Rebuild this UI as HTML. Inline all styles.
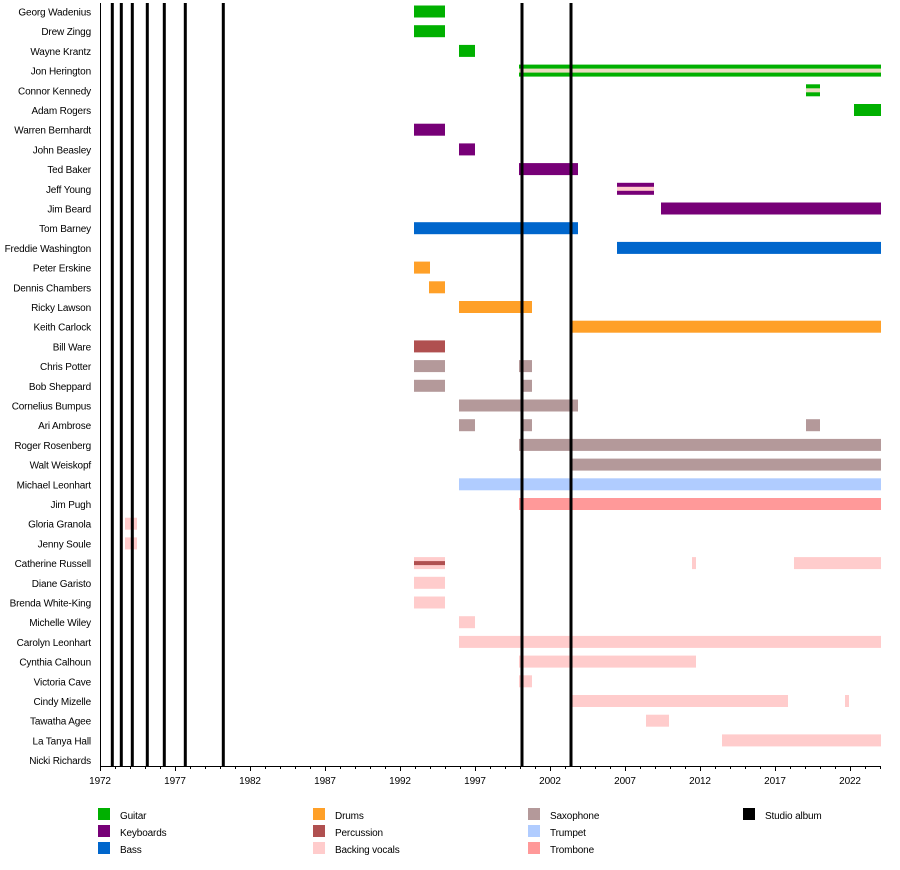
<!DOCTYPE html>
<html><head><meta charset="utf-8"><style>
body{margin:0;background:#fff}
svg text{font-family:"Liberation Sans",Arial,sans-serif;font-size:10px;fill:#000;letter-spacing:-0.15px}
</style></head><body>
<svg width="900" height="865" xmlns="http://www.w3.org/2000/svg">
<g text-anchor="end">
<g transform="translate(0,11.5)"><text x="91" y="4">Georg Wadenius</text><rect x="414" y="-6" width="31" height="12" fill="#00B000"/></g>
<g transform="translate(0,31.2)"><text x="91" y="4">Drew Zingg</text><rect x="414" y="-6" width="31" height="12" fill="#00B000"/></g>
<g transform="translate(0,50.9)"><text x="91" y="4">Wayne Krantz</text><rect x="459" y="-6" width="16" height="12" fill="#00B000"/></g>
<g transform="translate(0,70.6)"><text x="91" y="4">Jon Herington</text><rect x="519" y="-6" width="362" height="12" fill="#00B000"/><rect x="519" y="-2" width="362" height="4" fill="#E8DCC0"/></g>
<g transform="translate(0,90.3)"><text x="91" y="4">Connor Kennedy</text><rect x="806" y="-6" width="14" height="12" fill="#00B000"/><rect x="806" y="-2" width="14" height="4" fill="#E8DCC0"/></g>
<g transform="translate(0,110)"><text x="91" y="4">Adam Rogers</text><rect x="854" y="-6" width="27" height="12" fill="#00B000"/></g>
<g transform="translate(0,129.7)"><text x="91" y="4">Warren Bernhardt</text><rect x="414" y="-6" width="31" height="12" fill="#770077"/></g>
<g transform="translate(0,149.4)"><text x="91" y="4">John Beasley</text><rect x="459" y="-6" width="16" height="12" fill="#770077"/></g>
<g transform="translate(0,169.1)"><text x="91" y="4">Ted Baker</text><rect x="519" y="-6" width="59" height="12" fill="#770077"/></g>
<g transform="translate(0,188.8)"><text x="91" y="4">Jeff Young</text><rect x="617" y="-6" width="37" height="12" fill="#770077"/><rect x="617" y="-2" width="37" height="4" fill="#FFCCCC"/></g>
<g transform="translate(0,208.5)"><text x="91" y="4">Jim Beard</text><rect x="661" y="-6" width="220" height="12" fill="#770077"/></g>
<g transform="translate(0,228.2)"><text x="91" y="4">Tom Barney</text><rect x="414" y="-6" width="164" height="12" fill="#0066CC"/></g>
<g transform="translate(0,247.9)"><text x="91" y="4">Freddie Washington</text><rect x="617" y="-6" width="264" height="12" fill="#0066CC"/></g>
<g transform="translate(0,267.6)"><text x="91" y="4">Peter Erskine</text><rect x="414" y="-6" width="16" height="12" fill="#FFA028"/></g>
<g transform="translate(0,287.3)"><text x="91" y="4">Dennis Chambers</text><rect x="429" y="-6" width="16" height="12" fill="#FFA028"/></g>
<g transform="translate(0,307)"><text x="91" y="4">Ricky Lawson</text><rect x="459" y="-6" width="73" height="12" fill="#FFA028"/></g>
<g transform="translate(0,326.7)"><text x="91" y="4">Keith Carlock</text><rect x="572" y="-6" width="309" height="12" fill="#FFA028"/></g>
<g transform="translate(0,346.4)"><text x="91" y="4">Bill Ware</text><rect x="414" y="-6" width="31" height="12" fill="#B05050"/></g>
<g transform="translate(0,366.1)"><text x="91" y="4">Chris Potter</text><rect x="414" y="-6" width="31" height="12" fill="#B4999A"/><rect x="519" y="-6" width="13" height="12" fill="#B4999A"/></g>
<g transform="translate(0,385.8)"><text x="91" y="4">Bob Sheppard</text><rect x="414" y="-6" width="31" height="12" fill="#B4999A"/><rect x="523" y="-6" width="9" height="12" fill="#B4999A"/></g>
<g transform="translate(0,405.5)"><text x="91" y="4">Cornelius Bumpus</text><rect x="459" y="-6" width="119" height="12" fill="#B4999A"/></g>
<g transform="translate(0,425.2)"><text x="91" y="4">Ari Ambrose</text><rect x="459" y="-6" width="16" height="12" fill="#B4999A"/><rect x="523" y="-6" width="9" height="12" fill="#B4999A"/><rect x="806" y="-6" width="14" height="12" fill="#B4999A"/></g>
<g transform="translate(0,444.9)"><text x="91" y="4">Roger Rosenberg</text><rect x="519" y="-6" width="362" height="12" fill="#B4999A"/></g>
<g transform="translate(0,464.6)"><text x="91" y="4">Walt Weiskopf</text><rect x="572" y="-6" width="309" height="12" fill="#B4999A"/></g>
<g transform="translate(0,484.3)"><text x="91" y="4">Michael Leonhart</text><rect x="459" y="-6" width="422" height="12" fill="#B0CCFF"/></g>
<g transform="translate(0,504)"><text x="91" y="4">Jim Pugh</text><rect x="519" y="-6" width="362" height="12" fill="#FF9999"/></g>
<g transform="translate(0,523.7)"><text x="91" y="4">Gloria Granola</text><rect x="125" y="-6" width="12" height="12" fill="#FFCCCC"/></g>
<g transform="translate(0,543.4)"><text x="91" y="4">Jenny Soule</text><rect x="125" y="-6" width="12" height="12" fill="#FFCCCC"/></g>
<g transform="translate(0,563.1)"><text x="91" y="4">Catherine Russell</text><rect x="414" y="-6" width="31" height="12" fill="#FFCCCC"/><rect x="414" y="-2" width="31" height="4" fill="#B05050"/><rect x="692" y="-6" width="4" height="12" fill="#FFCCCC"/><rect x="794" y="-6" width="87" height="12" fill="#FFCCCC"/></g>
<g transform="translate(0,582.8)"><text x="91" y="4">Diane Garisto</text><rect x="414" y="-6" width="31" height="12" fill="#FFCCCC"/></g>
<g transform="translate(0,602.5)"><text x="91" y="4">Brenda White-King</text><rect x="414" y="-6" width="31" height="12" fill="#FFCCCC"/></g>
<g transform="translate(0,622.2)"><text x="91" y="4">Michelle Wiley</text><rect x="459" y="-6" width="16" height="12" fill="#FFCCCC"/></g>
<g transform="translate(0,641.9)"><text x="91" y="4">Carolyn Leonhart</text><rect x="459" y="-6" width="422" height="12" fill="#FFCCCC"/></g>
<g transform="translate(0,661.6)"><text x="91" y="4">Cynthia Calhoun</text><rect x="519" y="-6" width="177" height="12" fill="#FFCCCC"/></g>
<g transform="translate(0,681.3)"><text x="91" y="4">Victoria Cave</text><rect x="519" y="-6" width="13" height="12" fill="#FFCCCC"/></g>
<g transform="translate(0,701)"><text x="91" y="4">Cindy Mizelle</text><rect x="572" y="-6" width="216" height="12" fill="#FFCCCC"/><rect x="845" y="-6" width="4" height="12" fill="#FFCCCC"/></g>
<g transform="translate(0,720.7)"><text x="91" y="4">Tawatha Agee</text><rect x="646" y="-6" width="23" height="12" fill="#FFCCCC"/></g>
<g transform="translate(0,740.4)"><text x="91" y="4">La Tanya Hall</text><rect x="722" y="-6" width="159" height="12" fill="#FFCCCC"/></g>
<g transform="translate(0,760.1)"><text x="91" y="4">Nicki Richards</text></g>
</g>
<g fill="#000">
<rect x="110.8" y="3" width="3" height="763"/><rect x="119.8" y="3" width="3" height="763"/><rect x="130.8" y="3" width="3" height="763"/><rect x="145.8" y="3" width="3" height="763"/><rect x="162.8" y="3" width="3" height="763"/><rect x="183.8" y="3" width="3" height="763"/><rect x="221.8" y="3" width="3" height="763"/><rect x="520.5" y="3" width="3" height="763"/><rect x="569.5" y="3" width="3" height="763"/>
</g>
<line x1="100.5" y1="3" x2="100.5" y2="766" stroke="#000"/>
<line x1="100" y1="766.5" x2="881" y2="766.5" stroke="#000"/>
<path stroke="#000" d="M100.5 766v3M115.5 766v3M130.5 766v3M145.5 766v3M160.5 766v3M175.5 766v3M190.5 766v3M205.5 766v3M220.5 766v3M235.5 766v3M250.5 766v3M265.5 766v3M280.5 766v3M295.5 766v3M310.5 766v3M325.5 766v3M340.5 766v3M355.5 766v3M370.5 766v3M385.5 766v3M400.5 766v3M415.5 766v3M430.5 766v3M445.5 766v3M460.5 766v3M475.5 766v3M490.5 766v3M505.5 766v3M520.5 766v3M535.5 766v3M550.5 766v3M565.5 766v3M580.5 766v3M595.5 766v3M610.5 766v3M625.5 766v3M640.5 766v3M655.5 766v3M670.5 766v3M685.5 766v3M700.5 766v3M715.5 766v3M730.5 766v3M745.5 766v3M760.5 766v3M775.5 766v3M790.5 766v3M805.5 766v3M820.5 766v3M835.5 766v3M850.5 766v3M865.5 766v3M880.5 766v3M100.5 766v5M175.5 766v5M250.5 766v5M325.5 766v5M400.5 766v5M475.5 766v5M550.5 766v5M625.5 766v5M700.5 766v5M775.5 766v5M850.5 766v5"/>
<g text-anchor="middle">
<text x="100" y="784">1972</text><text x="175" y="784">1977</text><text x="250" y="784">1982</text><text x="325" y="784">1987</text><text x="400" y="784">1992</text><text x="475" y="784">1997</text><text x="550" y="784">2002</text><text x="625" y="784">2007</text><text x="700" y="784">2012</text><text x="775" y="784">2017</text><text x="850" y="784">2022</text>
</g>
<rect x="98" y="808" width="12" height="12" fill="#00B000"/><text x="120" y="819">Guitar</text>
<rect x="98" y="825" width="12" height="12" fill="#770077"/><text x="120" y="836">Keyboards</text>
<rect x="98" y="842" width="12" height="12" fill="#0066CC"/><text x="120" y="853">Bass</text>
<rect x="313" y="808" width="12" height="12" fill="#FFA028"/><text x="335" y="819">Drums</text>
<rect x="313" y="825" width="12" height="12" fill="#B05050"/><text x="335" y="836">Percussion</text>
<rect x="313" y="842" width="12" height="12" fill="#FFCCCC"/><text x="335" y="853">Backing vocals</text>
<rect x="528" y="808" width="12" height="12" fill="#B4999A"/><text x="550" y="819">Saxophone</text>
<rect x="528" y="825" width="12" height="12" fill="#B0CCFF"/><text x="550" y="836">Trumpet</text>
<rect x="528" y="842" width="12" height="12" fill="#FF9999"/><text x="550" y="853">Trombone</text>
<rect x="743" y="808" width="12" height="12" fill="#000"/><text x="765" y="819">Studio album</text>
</svg>
</body></html>
